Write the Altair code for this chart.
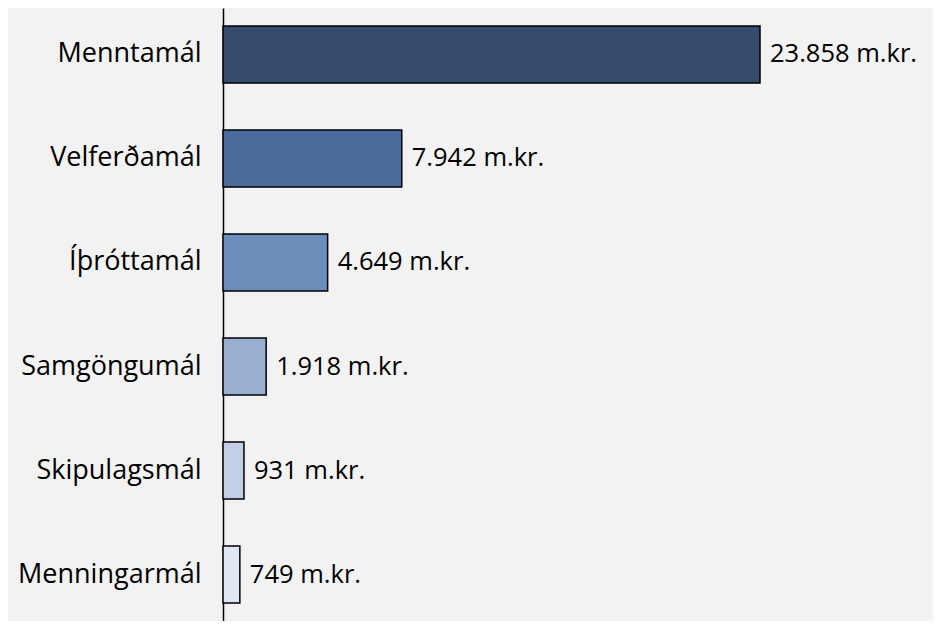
import altair as alt
import pandas as pd

categories = ["Menntamál", "Velferðamál", "Íþróttamál", "Samgöngumál", "Skipulagsmál", "Menningarmál"]
values = [23858, 7942, 4649, 1918, 931, 749]
colors = ["#374b6c", "#4a6b9b", "#6c8cba", "#9aafd0", "#c3cfe4", "#dfe6f1"]

labels = [f"{v:,}".replace(",", ".") + " m.kr." for v in values]
df = pd.DataFrame({"cat": categories, "val": values, "label": labels, "color": colors})

FONT = "Open Sans"

y_enc = alt.Y("cat:N", sort=categories,
              scale=alt.Scale(paddingInner=0.452, paddingOuter=0.173),
              axis=alt.Axis(title=None, ticks=False, labelFontSize=27, labelFont=FONT,
                            labelColor="#000000", labelPadding=22, domainColor="#000000",
                            domainWidth=1.5, grid=False, labelLimit=300))
x_enc = alt.X("val:Q", scale=alt.Scale(domain=[0, 31544], nice=False), axis=None)

bars = alt.Chart(df).mark_bar(stroke="#000000", strokeWidth=1.5).encode(
    x=x_enc, y=y_enc,
    color=alt.Color("color:N", scale=None),
)
text = alt.Chart(df).mark_text(align="left", baseline="middle", dx=10, fontSize=25.5,
                               font=FONT, color="#000000").encode(
    x=alt.X("val:Q"), y=alt.Y("cat:N", sort=categories), text="label:N"
)

chart = (bars + text).properties(
    width=710, height=613,
    background="#f2f2f2",
    padding={"left": 215, "top": 0, "right": 0, "bottom": 0},
    autosize=alt.AutoSizeParams(type="none"),
).configure_view(stroke=None)

chart.save("out.html", embed_options={"renderer": "svg", "actions": False})
